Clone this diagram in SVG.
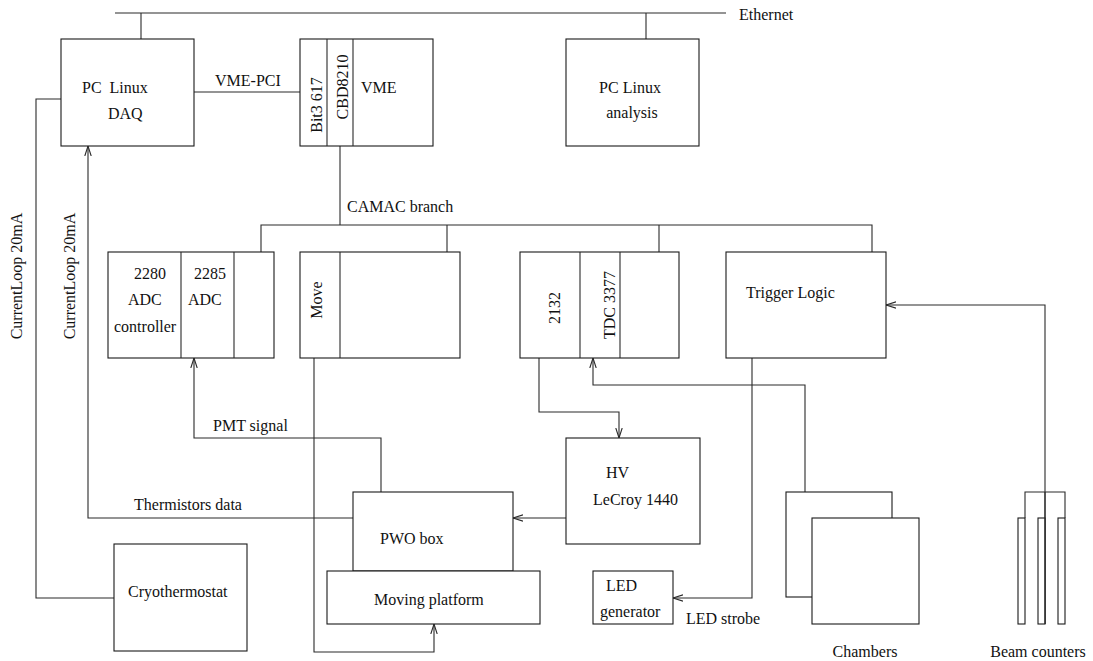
<svg xmlns="http://www.w3.org/2000/svg" width="1093" height="661" viewBox="0 0 1093 661">
<style>
.box{fill:#fff;stroke:#1a1a1a;stroke-width:1.1}
.ln{fill:none;stroke:#2a2a2a;stroke-width:1.1}
text{font-family:"Liberation Serif","DejaVu Serif","Times New Roman",serif;font-size:16px;fill:#111}
.m{text-anchor:middle}
</style>
<defs>
<marker id="arr" markerWidth="12" markerHeight="8" refX="10" refY="4" orient="auto" markerUnits="userSpaceOnUse">
<path d="M0,0.8 L10,4 L0,7.2" fill="none" stroke="#2a2a2a" stroke-width="1.1"/>
</marker>
</defs>
<rect width="1093" height="661" fill="#fff"/>

<g id="connectors">
<path class="ln" d="M115,13 H726"/>
<path class="ln" d="M141,13 V39"/>
<path class="ln" d="M646,13 V39"/>
<path class="ln" d="M194,92 H308"/>
<path class="ln" d="M340,133 V225"/>
<path class="ln" d="M261,252 V225 H872 V252"/>
<path class="ln" d="M447,225 V252"/>
<path class="ln" d="M659,225 V252"/>
<path class="ln" d="M61,99 H36 V598 H114"/>
<path class="ln" d="M353,518 H88 V146" marker-end="url(#arr)"/>
<path class="ln" d="M381,492 V438 H194 V358" marker-end="url(#arr)"/>
<path class="ln" d="M314,358 V652 H434 V624" marker-end="url(#arr)"/>
<path class="ln" d="M539,358 V412 H619 V438" marker-end="url(#arr)"/>
<path class="ln" d="M805,492 V385 H593 V358" marker-end="url(#arr)"/>
<path class="ln" d="M752,358 V598 H673" marker-end="url(#arr)"/>
<path class="ln" d="M566,518 H513" marker-end="url(#arr)"/>
<path class="ln" d="M1045,624 V305 H886" marker-end="url(#arr)"/>
<text x="739" y="20">Ethernet</text>
<text x="215" y="86">VME-PCI</text>
<text x="347" y="212">CAMAC branch</text>
<text x="213" y="431">PMT signal</text>
<text x="134" y="510">Thermistors data</text>
<text x="686" y="624">LED strobe</text>
<text class="m" transform="translate(22,276) rotate(-90)">CurrentLoop 20mA</text>
<text class="m" transform="translate(75,276) rotate(-90)">CurrentLoop 20mA</text>
</g>

<g id="pc-daq">
<rect class="box" x="61" y="39" width="133" height="107"/>
<text x="82" y="93">PC&#160; Linux</text>
<text x="108" y="119">DAQ</text>
</g>

<g id="vme-crate">
<rect class="box" x="300" y="39" width="133" height="107"/>
<path class="ln" d="M327,39 V146 M353,39 V146"/>
<text class="m" transform="translate(322,105) rotate(-90)">Bit3 617</text>
<text class="m" transform="translate(348,87) rotate(-90)">CBD8210</text>
<text x="361" y="93">VME</text>
</g>

<g id="pc-analysis">
<rect class="box" x="566" y="39" width="133" height="107"/>
<text class="m" x="630" y="93">PC Linux</text>
<text class="m" x="632" y="118">analysis</text>
</g>

<g id="adc-crate">
<rect class="box" x="108" y="252" width="166" height="106"/>
<path class="ln" d="M181,252 V358 M234,252 V358"/>
<text x="134" y="279">2280</text>
<text x="128" y="305">ADC</text>
<text x="114" y="332">controller</text>
<text x="194" y="279">2285</text>
<text x="188" y="305">ADC</text>
</g>

<g id="move-crate">
<rect class="box" x="300" y="252" width="160" height="106"/>
<path class="ln" d="M340,252 V358"/>
<text class="m" transform="translate(322,300) rotate(-90)">Move</text>
</g>

<g id="tdc-crate">
<rect class="box" x="520" y="252" width="159" height="106"/>
<path class="ln" d="M580,252 V358 M620,252 V358"/>
<text class="m" transform="translate(560,308) rotate(-90)">2132</text>
<text class="m" transform="translate(615,305) rotate(-90)">TDC 3377</text>
</g>

<g id="trigger-logic">
<rect class="box" x="726" y="252" width="160" height="106"/>
<text x="746" y="298">Trigger Logic</text>
</g>

<g id="hv">
<rect class="box" x="566" y="438" width="134" height="106"/>
<text x="606" y="478">HV</text>
<text x="593" y="505">LeCroy 1440</text>
</g>

<g id="pwo-box">
<rect class="box" x="353" y="492" width="160" height="79"/>
<text x="380" y="544">PWO box</text>
</g>

<g id="moving-platform">
<rect class="box" x="327" y="571" width="213" height="53"/>
<text x="374" y="605">Moving platform</text>
</g>

<g id="cryothermostat">
<rect class="box" x="114" y="544" width="133" height="107"/>
<text x="128" y="597">Cryothermostat</text>
</g>

<g id="led-generator">
<rect class="box" x="593" y="571" width="80" height="53"/>
<text x="606" y="591">LED</text>
<text x="600" y="617">generator</text>
</g>

<g id="chambers">
<rect class="box" x="786" y="492" width="106" height="105"/>
<rect class="box" x="812" y="518" width="107" height="106"/>
<text class="m" x="865" y="657">Chambers</text>
</g>

<g id="beam-counters">
<rect class="box" x="1018" y="518" width="7" height="106"/>
<rect class="box" x="1038" y="518" width="7" height="106"/>
<rect class="box" x="1058" y="518" width="7" height="106"/>
<path class="ln" d="M1025,518 V492 H1065 V518"/>
<path class="ln" d="M1045,492 V624"/>
<text class="m" x="1038" y="657">Beam counters</text>
</g>
</svg>
